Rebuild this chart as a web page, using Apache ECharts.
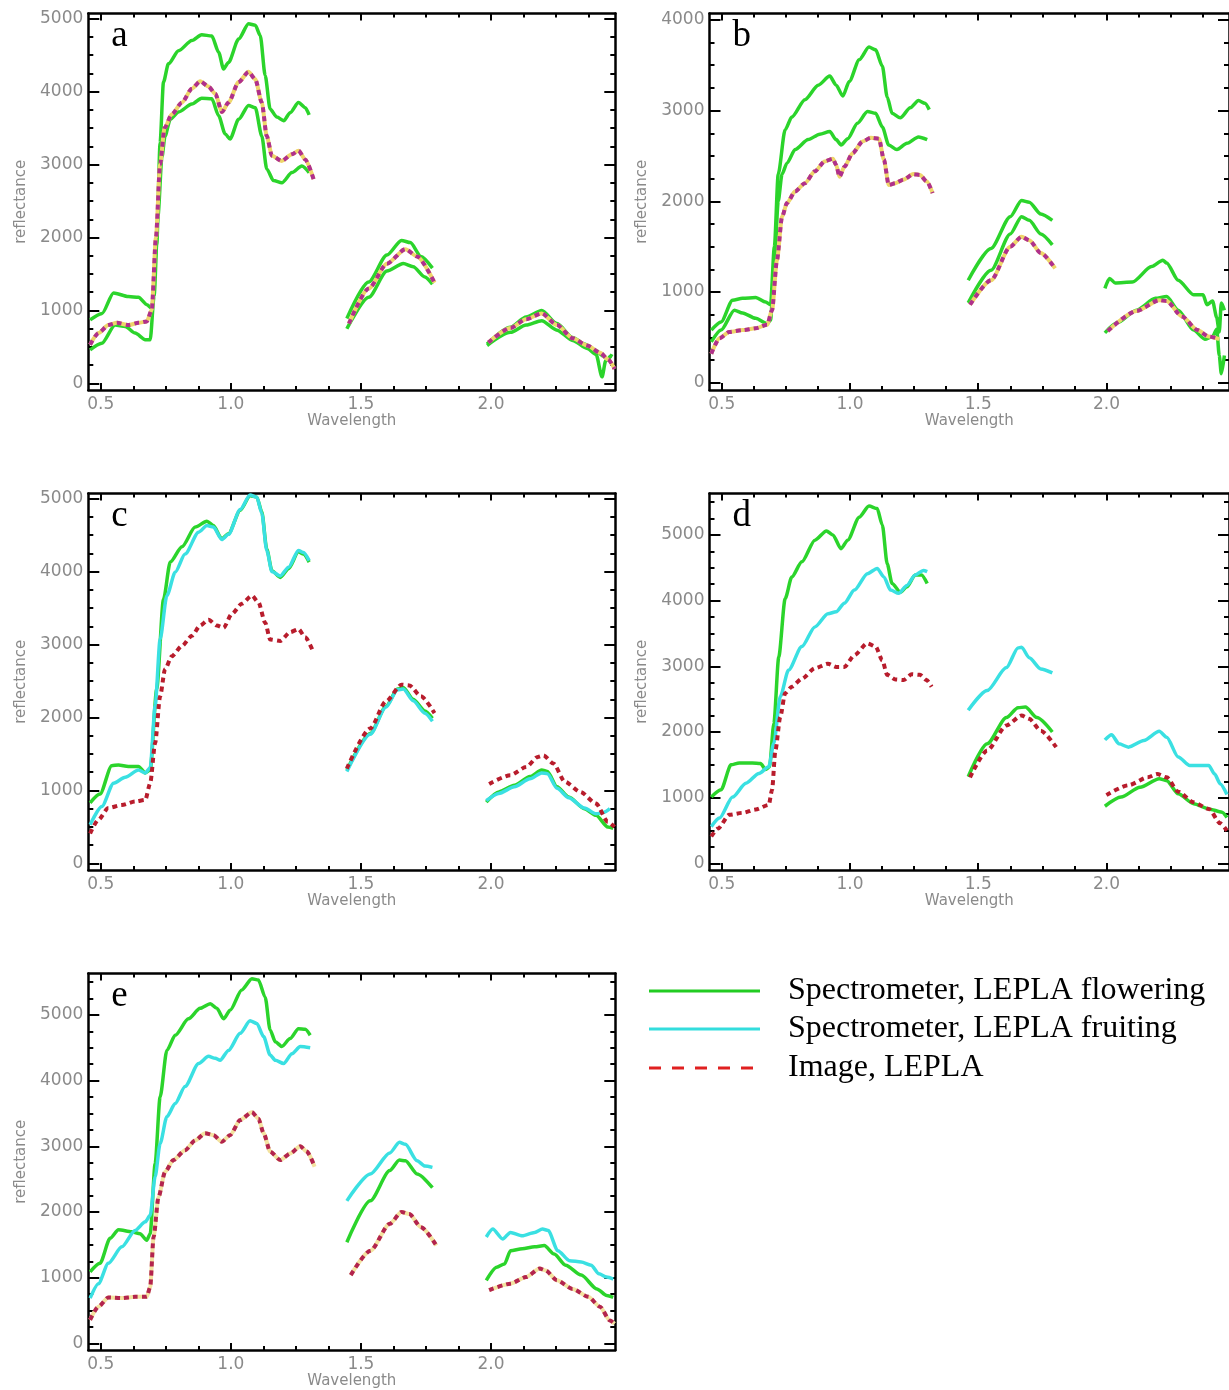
<!DOCTYPE html>
<html><head><meta charset="utf-8">
<script src="https://cdn.jsdelivr.net/npm/echarts@6/dist/echarts.min.js"></script>
<style>html,body{margin:0;padding:0;background:#fff}#c{width:1229px;height:1390px}</style>
</head><body><div id="c"></div><script>
// ---------- axis ticks ----------
const X_MAJOR = [0.5, 1.0, 1.5, 2.0];
const X_MINOR = [0.625, 0.75, 0.875, 1.125, 1.25, 1.375, 1.625, 1.75, 1.875, 2.125, 2.25, 2.375];
const Y_MAJOR_5K = [0, 1000, 2000, 3000, 4000, 5000];
const Y_MAJOR_4K = [0, 1000, 2000, 3000, 4000];
const LEGEND_LABELS = ['Spectrometer, LEPLA flowering', 'Spectrometer, LEPLA fruiting', 'Image, LEPLA'];

// ---------- panel a ----------
const A_FLOWER_1 = [
 [[0.459,870],[0.505,960],[0.549,1240],[0.606,1190],[0.645,1180],[0.677,1080],[0.696,1030],[0.715,1900],[0.728,3300],[0.741,4130],[0.76,4380],[0.799,4560],[0.85,4700],[0.888,4780],[0.927,4760],[0.953,4540],[0.972,4310],[0.991,4400],[1.03,4720],[1.068,4930],[1.094,4910],[1.113,4770],[1.132,4220],[1.151,3760],[1.177,3650],[1.203,3600],[1.228,3710],[1.26,3850],[1.286,3780],[1.301,3680]],
 [[1.446,890],[1.53,1390],[1.6,1760],[1.656,1960],[1.69,1930],[1.731,1740],[1.775,1580]],
 [[1.985,540],[2.075,770],[2.135,910],[2.195,1000],[2.254,820],[2.314,630],[2.359,540],[2.404,450],[2.43,380],[2.45,330],[2.465,400]]
];
const A_FLOWER_2 = [
 [[0.459,460],[0.504,550],[0.555,800],[0.594,780],[0.632,690],[0.671,600],[0.69,600],[0.705,1200],[0.72,2300],[0.735,3100],[0.747,3390],[0.767,3620],[0.799,3720],[0.85,3830],[0.888,3910],[0.927,3900],[0.953,3670],[0.978,3420],[0.997,3350],[1.03,3620],[1.068,3810],[1.094,3780],[1.119,3390],[1.138,2940],[1.164,2780],[1.196,2750],[1.235,2890],[1.273,2980],[1.301,2890]],
 [[1.446,750],[1.53,1180],[1.6,1540],[1.663,1645],[1.701,1600],[1.746,1460],[1.775,1360]],
 [[1.985,520],[2.075,700],[2.135,800],[2.195,860],[2.254,730],[2.314,590],[2.37,480],[2.404,400],[2.427,90],[2.441,310],[2.46,380]]
];
const A_IMAGE = [
 [[0.459,530],[0.491,690],[0.529,800],[0.562,830],[0.606,800],[0.645,830],[0.677,850],[0.696,1010],[0.712,2000],[0.728,3000],[0.745,3500],[0.773,3690],[0.812,3850],[0.85,4040],[0.882,4140],[0.914,4070],[0.94,3970],[0.966,3720],[0.991,3850],[1.03,4130],[1.068,4270],[1.094,4170],[1.119,3850],[1.138,3390],[1.158,3120],[1.196,3050],[1.235,3140],[1.26,3190],[1.286,3070],[1.318,2800]],
 [[1.454,820],[1.53,1300],[1.6,1640],[1.671,1840],[1.716,1740],[1.783,1380]],
 [[1.99,560],[2.075,760],[2.135,880],[2.195,960],[2.254,800],[2.314,620],[2.37,520],[2.42,420],[2.45,330],[2.475,200]]
];

// ---------- panel b ----------
const B_FLOWER_1 = [
 [[0.459,580],[0.497,670],[0.542,910],[0.581,930],[0.632,940],[0.671,890],[0.69,860],[0.705,1500],[0.72,2300],[0.747,2790],[0.773,2930],[0.824,3120],[0.876,3280],[0.921,3380],[0.946,3280],[0.972,3160],[0.997,3320],[1.036,3560],[1.074,3700],[1.1,3670],[1.126,3490],[1.145,3150],[1.164,2970],[1.196,2920],[1.235,3030],[1.267,3110],[1.292,3080],[1.309,3010]],
 [[1.461,1130],[1.55,1480],[1.625,1830],[1.669,2010],[1.699,1990],[1.744,1860],[1.789,1790]],
 [[1.994,1040],[2.012,1150],[2.034,1100],[2.101,1110],[2.176,1280],[2.22,1350],[2.235,1320],[2.28,1130],[2.34,970],[2.377,970],[2.392,860],[2.414,900],[2.43,720],[2.44,560],[2.448,880],[2.46,800]]
];
const B_FLOWER_2 = [
 [[0.459,450],[0.497,580],[0.549,800],[0.581,770],[0.632,710],[0.677,650],[0.69,690],[0.705,1300],[0.72,2000],[0.735,2300],[0.754,2420],[0.786,2570],[0.837,2680],[0.882,2740],[0.921,2770],[0.946,2680],[0.965,2620],[0.991,2690],[1.029,2860],[1.068,2990],[1.1,2970],[1.126,2820],[1.151,2620],[1.183,2570],[1.222,2640],[1.267,2710],[1.301,2680]],
 [[1.461,880],[1.55,1240],[1.625,1640],[1.669,1830],[1.699,1790],[1.744,1640],[1.789,1520]],
 [[1.994,550],[2.042,660],[2.117,800],[2.191,930],[2.235,950],[2.28,800],[2.34,580],[2.384,480],[2.414,510],[2.43,590],[2.44,300],[2.448,100],[2.46,300]]
];
const B_IMAGE = [
 [[0.459,320],[0.491,490],[0.529,560],[0.581,580],[0.632,600],[0.677,640],[0.696,800],[0.715,1350],[0.735,1830],[0.754,1980],[0.786,2110],[0.824,2200],[0.863,2330],[0.901,2440],[0.933,2470],[0.946,2400],[0.959,2270],[0.978,2380],[1.01,2530],[1.049,2660],[1.081,2700],[1.113,2690],[1.132,2460],[1.151,2180],[1.177,2200],[1.209,2240],[1.247,2300],[1.273,2290],[1.299,2220],[1.322,2090]],
 [[1.468,860],[1.55,1130],[1.625,1500],[1.669,1610],[1.699,1570],[1.744,1430],[1.8,1260]],
 [[2.005,570],[2.117,790],[2.206,910],[2.235,900],[2.295,730],[2.355,580],[2.399,510],[2.44,480]]
];

// ---------- panel c ----------
const C_FLOWER = [
 [[0.459,830],[0.497,950],[0.542,1340],[0.568,1350],[0.606,1330],[0.645,1330],[0.671,1240],[0.69,1280],[0.715,2390],[0.741,3620],[0.767,4130],[0.812,4340],[0.863,4610],[0.908,4690],[0.933,4630],[0.965,4450],[0.991,4520],[1.036,4840],[1.074,5040],[1.1,5020],[1.119,4820],[1.138,4310],[1.158,4010],[1.19,3920],[1.222,4040],[1.26,4270],[1.279,4240],[1.301,4130]],
 [[1.446,1280],[1.536,1780],[1.596,2150],[1.641,2390],[1.663,2410],[1.701,2250],[1.746,2090],[1.775,1990]],
 [[1.982,840],[2.03,980],[2.09,1070],[2.15,1190],[2.195,1280],[2.217,1260],[2.254,1050],[2.299,910],[2.359,750],[2.404,660],[2.449,500],[2.47,480]]
];
const C_FRUIT = [
 [[0.459,530],[0.504,780],[0.549,1100],[0.594,1180],[0.645,1280],[0.671,1240],[0.69,1310],[0.709,2160],[0.728,3070],[0.754,3670],[0.786,3990],[0.824,4240],[0.876,4540],[0.908,4630],[0.933,4610],[0.965,4440],[0.991,4510],[1.036,4850],[1.074,5050],[1.1,5020],[1.119,4800],[1.138,4290],[1.158,4000],[1.19,3940],[1.222,4060],[1.26,4290],[1.279,4260],[1.301,4150]],
 [[1.446,1260],[1.536,1770],[1.596,2140],[1.641,2380],[1.663,2390],[1.701,2230],[1.746,2060],[1.775,1950]],
 [[1.982,860],[2.03,960],[2.09,1050],[2.15,1160],[2.195,1240],[2.217,1230],[2.254,1030],[2.299,900],[2.359,760],[2.404,680],[2.434,700],[2.457,750]]
];
const C_IMAGE = [
 [[0.459,410],[0.491,600],[0.529,760],[0.581,800],[0.632,850],[0.671,870],[0.69,1100],[0.709,1650],[0.728,2290],[0.747,2660],[0.773,2840],[0.812,2980],[0.85,3120],[0.882,3260],[0.914,3340],[0.946,3260],[0.972,3230],[1.004,3420],[1.042,3560],[1.081,3670],[1.106,3580],[1.132,3300],[1.151,3070],[1.19,3050],[1.228,3170],[1.26,3210],[1.286,3100],[1.318,2890]],
 [[1.446,1300],[1.536,1850],[1.596,2220],[1.656,2450],[1.686,2440],[1.731,2290],[1.783,2060]],
 [[1.993,1090],[2.075,1210],[2.135,1320],[2.18,1460],[2.202,1480],[2.24,1370],[2.284,1120],[2.344,980],[2.404,820],[2.449,570],[2.475,500]]
];

// ---------- panel d ----------
const D_FLOWER = [
 [[0.459,1010],[0.497,1120],[0.536,1500],[0.568,1530],[0.619,1530],[0.651,1520],[0.671,1430],[0.686,1470],[0.703,2130],[0.722,3140],[0.747,4030],[0.773,4360],[0.812,4590],[0.863,4920],[0.908,5060],[0.933,5000],[0.965,4790],[0.991,4920],[1.036,5270],[1.074,5440],[1.106,5400],[1.126,5150],[1.145,4560],[1.164,4260],[1.196,4130],[1.222,4210],[1.254,4390],[1.279,4390],[1.301,4260]],
 [[1.461,1320],[1.535,1820],[1.61,2220],[1.655,2370],[1.684,2380],[1.729,2220],[1.789,2000]],
 [[1.994,870],[2.057,1010],[2.131,1160],[2.206,1290],[2.235,1260],[2.28,1060],[2.34,910],[2.399,830],[2.451,780],[2.47,700]]
];
const D_FRUIT = [
 [[0.459,560],[0.491,690],[0.542,1010],[0.594,1220],[0.645,1370],[0.683,1470],[0.703,1830],[0.728,2540],[0.76,2940],[0.812,3300],[0.863,3600],[0.914,3800],[0.946,3830],[0.978,3960],[1.017,4160],[1.068,4410],[1.106,4490],[1.132,4360],[1.158,4160],[1.19,4110],[1.222,4230],[1.254,4390],[1.286,4460],[1.301,4440]],
 [[1.461,2330],[1.535,2630],[1.61,2980],[1.655,3280],[1.669,3290],[1.699,3130],[1.744,2960],[1.789,2900]],
 [[1.994,1880],[2.02,1960],[2.049,1820],[2.086,1770],[2.146,1870],[2.206,2010],[2.235,1920],[2.28,1620],[2.325,1490],[2.399,1490],[2.422,1360],[2.444,1210],[2.47,1050]]
];
const D_IMAGE = [
 [[0.459,410],[0.485,530],[0.529,740],[0.581,770],[0.632,820],[0.683,890],[0.696,1120],[0.709,1720],[0.728,2230],[0.747,2590],[0.773,2690],[0.812,2810],[0.863,2970],[0.914,3040],[0.946,2990],[0.978,2990],[1.017,3170],[1.068,3350],[1.1,3300],[1.126,3090],[1.145,2870],[1.177,2800],[1.209,2790],[1.241,2880],[1.273,2870],[1.299,2790],[1.318,2690]],
 [[1.468,1310],[1.535,1720],[1.61,2100],[1.669,2250],[1.699,2200],[1.744,2020],[1.804,1770]],
 [[2.0,1040],[2.086,1190],[2.161,1310],[2.198,1360],[2.235,1310],[2.28,1090],[2.34,930],[2.399,830],[2.444,610],[2.47,500]]
];

// ---------- panel e ----------
const E_FLOWER = [
 [[0.459,1090],[0.497,1220],[0.536,1600],[0.568,1730],[0.619,1700],[0.651,1670],[0.677,1570],[0.69,1670],[0.709,2740],[0.728,3750],[0.754,4460],[0.786,4690],[0.837,4940],[0.882,5100],[0.921,5170],[0.946,5100],[0.972,4940],[0.997,5070],[1.042,5380],[1.081,5550],[1.106,5530],[1.132,5270],[1.151,4770],[1.171,4590],[1.196,4520],[1.228,4640],[1.26,4790],[1.286,4780],[1.305,4690]],
 [[1.446,1540],[1.536,2170],[1.611,2630],[1.648,2790],[1.671,2780],[1.716,2580],[1.775,2370]],
 [[1.982,960],[2.022,1160],[2.052,1210],[2.075,1410],[2.12,1440],[2.168,1470],[2.205,1490],[2.243,1360],[2.287,1190],[2.347,1040],[2.407,830],[2.445,730],[2.47,700]]
];
const E_FRUIT = [
 [[0.459,690],[0.491,910],[0.529,1220],[0.581,1470],[0.632,1720],[0.671,1850],[0.69,1950],[0.709,2540],[0.728,3040],[0.754,3450],[0.786,3650],[0.824,3910],[0.876,4260],[0.914,4370],[0.94,4340],[0.959,4310],[0.991,4460],[1.036,4720],[1.074,4910],[1.1,4870],[1.126,4670],[1.151,4390],[1.171,4310],[1.203,4260],[1.235,4410],[1.267,4520],[1.305,4500]],
 [[1.446,2170],[1.536,2580],[1.611,2900],[1.648,3060],[1.671,3030],[1.716,2780],[1.746,2700],[1.775,2680]],
 [[1.982,1620],[2.007,1740],[2.045,1590],[2.075,1690],[2.12,1640],[2.168,1690],[2.198,1740],[2.22,1720],[2.257,1410],[2.302,1260],[2.347,1240],[2.385,1190],[2.415,1060],[2.445,1010],[2.47,980]]
];
const E_IMAGE = [
 [[0.459,360],[0.491,560],[0.529,700],[0.581,690],[0.632,710],[0.677,710],[0.69,860],[0.703,1620],[0.722,2230],[0.747,2610],[0.779,2790],[0.824,2940],[0.863,3090],[0.901,3200],[0.933,3170],[0.965,3070],[0.997,3170],[1.036,3400],[1.081,3520],[1.106,3420],[1.126,3200],[1.151,2920],[1.19,2790],[1.228,2890],[1.267,3000],[1.292,2920],[1.322,2690]],
 [[1.461,1040],[1.536,1410],[1.611,1820],[1.656,2000],[1.686,1970],[1.731,1770],[1.79,1490]],
 [[1.993,810],[2.075,910],[2.135,1010],[2.187,1140],[2.21,1110],[2.254,960],[2.314,830],[2.374,710],[2.419,560],[2.457,350],[2.475,300]]
];

// ---------- styling / layout ----------
const GREEN = '#2bd42b', CYAN = '#3ae0e2';
const XMIN = 0.452, XMAX = 2.478;
const PW = 527, PH = 376.5;
const panels = [
  {letter:'a', left:88.3,  top:13.5,  ymin:-90,  ymax:5070, yMajor:Y_MAJOR_5K,
   lines:[{d:A_FLOWER_1,k:'g'},{d:A_FLOWER_2,k:'g'},{d:A_IMAGE,k:'imgY'}]},
  {letter:'b', left:709.5, top:13.5,  ymin:-80,  ymax:4070, yMajor:Y_MAJOR_4K,
   lines:[{d:B_FLOWER_1,k:'g'},{d:B_FLOWER_2,k:'g'},{d:B_IMAGE,k:'imgY'}]},
  {letter:'c', left:88.3,  top:493.5, ymin:-90,  ymax:5070, yMajor:Y_MAJOR_5K,
   lines:[{d:C_FLOWER,k:'g'},{d:C_FRUIT,k:'c'},{d:C_IMAGE,k:'imgR'}]},
  {letter:'d', left:709.5, top:493.5, ymin:-100, ymax:5630, yMajor:Y_MAJOR_5K,
   lines:[{d:D_FLOWER,k:'g'},{d:D_FRUIT,k:'c'},{d:D_IMAGE,k:'imgR'}]},
  {letter:'e', left:88.3,  top:973.5, ymin:-100, ymax:5630, yMajor:Y_MAJOR_5K,
   lines:[{d:E_FLOWER,k:'g'},{d:E_FRUIT,k:'c'},{d:E_IMAGE,k:'imgE'}]}
];

function toData(segs){
  const out = [];
  segs.forEach((s, j) => {
    if (j > 0) out.push([(segs[j-1][segs[j-1].length-1][0] + s[0][0]) / 2, null]);
    s.forEach(p => out.push(p));
  });
  return out;
}
function minorY(major, ymax){
  const r = [];
  for (let v = 250; v < ymax; v += 250) if (v % 1000 !== 0) r.push(v);
  return r;
}

const LABEL_STYLE = {color:'#8a8a8a', fontSize:17, fontFamily:'DejaVu Sans'};
const grids = [], xAxes = [], yAxes = [], series = [], graphics = [];

panels.forEach((p, i) => {
  grids.push({left:p.left, top:p.top, width:PW, height:PH, containLabel:false});
  const yMin = minorY(p.yMajor, p.ymax);
  const xBase = {type:'value', gridIndex:i, min:XMIN, max:XMAX, splitLine:{show:false}};
  const yBase = {type:'value', gridIndex:i, min:p.ymin, max:p.ymax, splitLine:{show:false}};
  const line = {show:true, onZero:false, lineStyle:{color:'#000', width:2.5}};
  const noLine = {show:false, onZero:false};
  // x axes
  xAxes.push(Object.assign({}, xBase, {position:'bottom', axisLine:line,
    axisTick:{show:true, inside:true, length:7, customValues:X_MAJOR, lineStyle:{color:'#000', width:2}},
    axisLabel:Object.assign({show:true, customValues:X_MAJOR, margin:6, formatter:v => v.toFixed(1)}, LABEL_STYLE),
    name:'Wavelength', nameLocation:'middle', nameGap:21,
    nameTextStyle:{color:'#8a8a8a', fontSize:15, fontFamily:'DejaVu Sans', verticalAlign:'top'}}));
  xAxes.push(Object.assign({}, xBase, {position:'bottom', axisLine:noLine,
    axisTick:{show:true, inside:true, length:4, customValues:X_MINOR, lineStyle:{color:'#000', width:2}},
    axisLabel:{show:false}}));
  xAxes.push(Object.assign({}, xBase, {position:'top', axisLine:line,
    axisTick:{show:true, inside:true, length:7, customValues:X_MAJOR, lineStyle:{color:'#000', width:2}},
    axisLabel:{show:false}}));
  xAxes.push(Object.assign({}, xBase, {position:'top', axisLine:noLine,
    axisTick:{show:true, inside:true, length:4, customValues:X_MINOR, lineStyle:{color:'#000', width:2}},
    axisLabel:{show:false}}));
  // y axes
  yAxes.push(Object.assign({}, yBase, {position:'left', axisLine:line,
    axisTick:{show:true, inside:true, length:11, customValues:p.yMajor, lineStyle:{color:'#000', width:2}},
    axisLabel:Object.assign({show:true, customValues:p.yMajor, margin:5, formatter:v => String(Math.round(v))}, LABEL_STYLE),
    name:'reflectance', nameLocation:'middle', nameGap:60,
    nameTextStyle:{color:'#8a8a8a', fontSize:15, fontFamily:'DejaVu Sans'}}));
  yAxes.push(Object.assign({}, yBase, {position:'left', axisLine:noLine,
    axisTick:{show:true, inside:true, length:5, customValues:yMin, lineStyle:{color:'#000', width:2}},
    axisLabel:{show:false}}));
  yAxes.push(Object.assign({}, yBase, {position:'right', axisLine:line,
    axisTick:{show:true, inside:true, length:11, customValues:p.yMajor, lineStyle:{color:'#000', width:2}},
    axisLabel:{show:false}}));
  yAxes.push(Object.assign({}, yBase, {position:'right', axisLine:noLine,
    axisTick:{show:true, inside:true, length:5, customValues:yMin, lineStyle:{color:'#000', width:2}},
    axisLabel:{show:false}}));

  const base = {type:'line', xAxisIndex:4*i, yAxisIndex:4*i, symbol:'none', smooth:0.25,
                smoothMonotone:'x', silent:true, animation:false, connectNulls:false};
  p.lines.forEach(l => {
    const data = toData(l.d);
    if (l.k === 'g') series.push(Object.assign({}, base, {data, z:2, lineStyle:{color:GREEN, width:3.5}}));
    else if (l.k === 'c') series.push(Object.assign({}, base, {data, z:3, lineStyle:{color:CYAN, width:3.5}}));
    else {
      const under = l.k === 'imgY' ? '#eed66a' : (l.k === 'imgE' ? '#f3e3a0' : null);
      const dash = l.k === 'imgY' ? '#b0308c' : (l.k === 'imgE' ? '#b3244e' : '#b81c2c');
      if (under) series.push(Object.assign({}, base, {data, z:4, lineStyle:{color:under, width:4}}));
      series.push(Object.assign({}, base, {data, z:5, lineStyle:{color:dash, width:4, type:[5,4], cap:'butt'}}));
    }
  });

  graphics.push({type:'text', x:p.left + 23, y:p.top + 22.5, z:10,
    style:{text:p.letter, font:'37px "Liberation Serif"', fill:'#000', verticalAlign:'middle'}});
});

// legend (drawn)
const LEG_Y = [991, 1029, 1068];
graphics.push({type:'line', shape:{x1:649, y1:LEG_Y[0], x2:760, y2:LEG_Y[0]}, style:{stroke:'#22cc22', lineWidth:3}});
graphics.push({type:'line', shape:{x1:649, y1:LEG_Y[1], x2:760, y2:LEG_Y[1]}, style:{stroke:'#33dddd', lineWidth:3}});
graphics.push({type:'line', shape:{x1:649, y1:LEG_Y[2], x2:760, y2:LEG_Y[2]}, style:{stroke:'#e02020', lineWidth:3, lineDash:[12,11]}});
LEGEND_LABELS.forEach((t, k) => {
  graphics.push({type:'text', x:788, y:LEG_Y[k],
    style:{text:t, font:'32px "Liberation Serif"', fill:'#000', verticalAlign:'middle'}});
});

const chart = echarts.init(document.getElementById('c'), null, {renderer:'canvas'});
chart.setOption({
  animation:false,
  backgroundColor:'#fff',
  grid:grids, xAxis:xAxes, yAxis:yAxes, series, graphic:graphics
});
</script></body></html>
